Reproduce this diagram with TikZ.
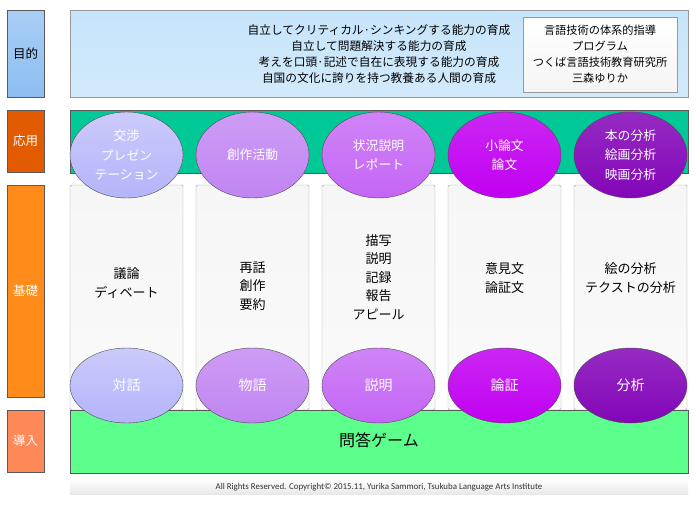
\documentclass[tikz,border=0pt]{standalone}
\usepackage{fontspec}
\setmainfont{Noto Sans CJK JP}
\newfontfamily\footfont{Carlito}
\usetikzlibrary{shapes.geometric}

\definecolor{goalblue}{HTML}{D2EAFB}
\definecolor{goalbluetop}{HTML}{C6E4FA}
\definecolor{applygreen}{HTML}{00C896}
\definecolor{introgreen}{HTML}{5CFF8C}
\definecolor{tagblue}{HTML}{8CBEF2}
\definecolor{tagapply}{HTML}{E35B00}
\definecolor{tagbasic}{HTML}{FF8C1A}
\definecolor{tagintro}{HTML}{FF8858}
\definecolor{ellA}{HTML}{B4B4FA}
\definecolor{ellB}{HTML}{C184F2}
\definecolor{ellC}{HTML}{C465F5}
\definecolor{ellD}{HTML}{C100F2}
\definecolor{ellE}{HTML}{8305B8}

\tikzset{
  tagbox/.style={draw=gray!70!black, minimum width=37pt, inner sep=0pt,
    text=white, font=\fontsize{12.5}{14}\selectfont},
  band/.style={draw=gray!70!black, minimum width=618pt, inner sep=0pt},
  column/.style={draw=gray!75, rounded corners=1.5pt, minimum width=113pt,
    minimum height=225pt, inner sep=0pt, top color=gray!7, bottom color=gray!4},
  coltext/.style={align=center, font=\fontsize{13}{18.5}\selectfont},
  skill/.style={ellipse, draw=black!70, minimum width=113pt, inner sep=0pt,
    text=white, align=center, font=\fontsize{12.8}{19.5}\selectfont},
}

\begin{document}
\begin{tikzpicture}[x=1pt,y=-1pt]
\useasboundingbox (0,0) rectangle (700,520);

% level tags on the left
\node[tagbox, minimum height=87pt, top color=tagblue!75, bottom color=tagblue, text=black]
  (tgoal) at (25.5,53.5) {目的};
\node[tagbox, minimum height=62pt, fill=tagapply] (tapply) at (25.5,141) {応用};
\node[tagbox, minimum height=212pt, fill=tagbasic] (tbasic) at (25.5,291) {基礎};
\node[tagbox, minimum height=62pt, fill=tagintro] (tintro) at (25.5,441) {導入};

% goal box
\node[band, draw=gray!80, minimum height=87pt, top color=goalbluetop, bottom color=goalblue]
  (goal) at (379,53.5) {};
\node[align=center, font=\fontsize{11.7}{16}\selectfont] (goaltext) at (379,54)
  {自立してクリティカル·シンキングする能力の育成\\
   自立して問題解決する能力の育成\\
   考えを口頭·記述で自在に表現する能力の育成\\
   自国の文化に誇りを持つ教養ある人間の育成};
\node[draw=gray!80, minimum width=154pt, minimum height=75pt, inner sep=0pt,
  top color=white, bottom color=gray!8, align=center,
  font=\fontsize{11.2}{16}\selectfont] (credit) at (600,54.5)
  {言語技術の体系的指導\\ プログラム\\ つくば言語技術教育研究所\\ 三森ゆりか};

% application band
\node[band, minimum height=63pt, fill=applygreen] (applyband) at (379,141.5) {};

% columns of the basic level
\node[column] (col1) at (126.5,297.5) {};
\node[column] (col2) at (252.5,297.5) {};
\node[column] (col3) at (378.5,297.5) {};
\node[column] (col4) at (504.5,297.5) {};
\node[column] (col5) at (630.5,297.5) {};

\node[coltext] (basic1) at (126.5,283) {議論\\ ディベート};
\node[coltext] (basic2) at (252.5,286) {再話\\ 創作\\ 要約};
\node[coltext] (basic3) at (378.5,277) {描写\\ 説明\\ 記録\\ 報告\\ アピール};
\node[coltext] (basic4) at (504.5,278) {意見文\\ 論証文};
\node[coltext] (basic5) at (630.5,278) {絵の分析\\ テクストの分析};

% introduction band
\node[band, minimum height=63pt, fill=introgreen] (introband) at (379,441.5) {};
\node[font=\fontsize{16}{18}\selectfont] (quiz) at (379,440) {問答ゲーム};

% applied skills
\node[skill, minimum height=86pt, top color=ellA!70, bottom color=ellA] (app1) at (126.5,155)
  {交渉\\ プレゼン\\ テーション};
\node[skill, minimum height=86pt, top color=ellB!80, bottom color=ellB] (app2) at (252.5,155)
  {創作活動};
\node[skill, minimum height=86pt, top color=ellC!80, bottom color=ellC] (app3) at (378.5,155)
  {状況説明\\ レポート};
\node[skill, minimum height=86pt, top color=ellD!85, bottom color=ellD] (app4) at (504.5,155)
  {小論文\\ 論文};
\node[skill, minimum height=86pt, top color=ellE!85, bottom color=ellE] (app5) at (630.5,155)
  {本の分析\\ 絵画分析\\ 映画分析};

% basic skills
\node[skill, minimum height=75pt, top color=ellA!70, bottom color=ellA, font=\fontsize{14}{16}\selectfont]
  (base1) at (126.5,385.5) {対話};
\node[skill, minimum height=75pt, top color=ellB!80, bottom color=ellB, font=\fontsize{14}{16}\selectfont]
  (base2) at (252.5,385.5) {物語};
\node[skill, minimum height=75pt, top color=ellC!80, bottom color=ellC, font=\fontsize{14}{16}\selectfont]
  (base3) at (378.5,385.5) {説明};
\node[skill, minimum height=75pt, top color=ellD!85, bottom color=ellD, font=\fontsize{14}{16}\selectfont]
  (base4) at (504.5,385.5) {論証};
\node[skill, minimum height=75pt, top color=ellE!85, bottom color=ellE, font=\fontsize{14}{16}\selectfont]
  (base5) at (630.5,385.5) {分析};

% footer
\node[minimum width=618pt, minimum height=15pt, inner sep=0pt, top color=white,
  bottom color=gray!18] (footer) at (379,486.5) {};
\node[font=\footfont\fontsize{8.9}{10}\selectfont, text=black!80] (copyright) at (379,487)
  {All Rights Reserved. Copyright© 2015.11, Yurika Sammori, Tsukuba Language Arts Institute};

\end{tikzpicture}
\end{document}
